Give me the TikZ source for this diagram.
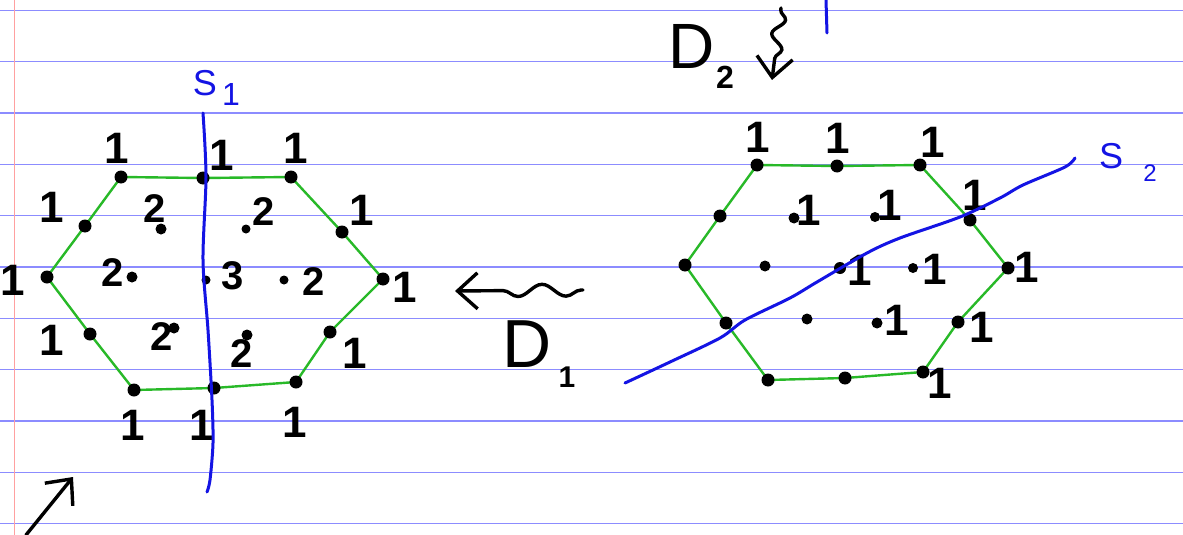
\documentclass[tikz,border=0pt]{standalone}
\usepackage{fontspec}
\setmainfont{Liberation Sans}
\usetikzlibrary{arrows.meta,decorations.pathmorphing}

\definecolor{ruleblue}{RGB}{140,140,255}
\definecolor{marginred}{RGB}{255,160,160}
\definecolor{penblue}{RGB}{20,20,228}
\definecolor{pengreen}{RGB}{40,185,40}

\tikzset{
  rule/.style={ruleblue,line width=1.4pt},
  edge/.style={pengreen,line width=2.4pt,line join=round},
  cutline/.style={penblue,line width=3pt,line cap=round},
  one/.style={inner sep=0pt,font=\fontsize{44}{44}\selectfont\bfseries},
  weight/.style={inner sep=0pt,font=\fontsize{40}{40}\selectfont\bfseries},
  penarrow/.style={line width=3.4pt,line cap=round,
    -{Straight Barb[length=20pt,width=36pt,line width=3.4pt]}},
}

\begin{document}
\begin{tikzpicture}[x=1pt,y=-1pt]
  \useasboundingbox (0,0) rectangle (1183,535);
  \fill[white] (0,0) rectangle (1183,535);

  % ruled paper
  \draw[rule] (0,10.5) -- (1183,10.5) (0,61.8) -- (1183,61.8)
    (0,113.1) -- (1183,113.1) (0,164.4) -- (1183,164.4)
    (0,215.7) -- (1183,215.7) (0,267) -- (1183,267)
    (0,318.3) -- (1183,318.3) (0,369.6) -- (1183,369.6)
    (0,420.9) -- (1183,420.9) (0,472.2) -- (1183,472.2)
    (0,523.5) -- (1183,523.5);
  \draw[marginred,line width=1.4pt] (14.7,0) -- (14.7,535);

  % left hexagon D1
  \coordinate (ltl) at (121,177);  \coordinate (ltm) at (203,178);
  \coordinate (ltr) at (291,177);  \coordinate (lru) at (342,232);
  \coordinate (lr)  at (383,279);  \coordinate (lrl) at (330,332);
  \coordinate (lbr) at (296,382);  \coordinate (lbm) at (214,388);
  \coordinate (lbl) at (134,390);  \coordinate (lll) at (90,334);
  \coordinate (ll)  at (47,277);   \coordinate (llu) at (85,226);
  \draw[edge] (ltl) -- (ltm) -- (ltr) -- (lru) -- (lr) -- (lrl) -- (lbr)
    -- (lbm) -- (lbl) -- (lll) -- (ll) -- (llu) -- cycle;
  \foreach \v in {ltl,ltm,ltr,lru,lr,lrl,lbr,lbm,lbl,lll,ll,llu}
    \fill (\v) circle (6.5);

  % interior points with weights
  \fill (161,229) circle (5.5); \node[weight] (w1) at (155,209) {2};
  \fill (246,229) circle (4.5); \node[weight] (w2) at (264,212) {2};
  \fill (132,277) circle (5.5); \node[weight] (w3) at (113,273) {2};
  \fill (206,280) circle (4.5); \node[weight] (w4) at (233,276) {3};
  \fill (284,280) circle (4.5); \node[weight] (w5) at (314,282) {2};
  \fill (174,328) circle (5.5); \node[weight] (w6) at (162,337) {2};
  \fill (247,335) circle (5.5); \node[weight] (w7) at (242,354) {2};

  % boundary weights
  \node[one] (o1)  at (117,148) {1};
  \node[one] (o2)  at (222,155) {1};
  \node[one] (o3)  at (296,148) {1};
  \node[one] (o4)  at (52,207)  {1};
  \node[one] (o5)  at (362,210) {1};
  \node[one] (o6)  at (13,280)  {1};
  \node[one] (o7)  at (405,287) {1};
  \node[one] (o8)  at (52,340)  {1};
  \node[one] (o9)  at (355,353) {1};
  \node[one] (o10) at (133,425) {1};
  \node[one] (o11) at (202,425) {1};
  \node[one] (o12) at (295,422) {1};

  % cut S1
  \draw[cutline] plot[smooth] coordinates {(203,113) (206,177) (203,260)
    (208,330) (212,400) (213,443) (210,480) (207,492)};
  \node[penblue,inner sep=0pt,font=\fontsize{36}{36}\selectfont]
    (s1) at (205,83) {S};
  \node[penblue,inner sep=0pt,font=\fontsize{32}{32}\selectfont]
    (s1i) at (231,94) {1};

  % squiggly arrow and D1
  \coordinate (d1tail) at (583,290);
  \coordinate (d1head) at (455,291);
  \draw[penarrow,decorate,decoration={snake,amplitude=6pt,segment length=48pt,
    pre length=2pt,post length=28pt}] (d1tail) -- (d1head);
  \node[inner sep=0pt,font=\fontsize{68}{68}\selectfont] (d1) at (527,344) {D};
  \node[inner sep=0pt,font=\fontsize{30}{30}\selectfont\bfseries]
    (d1i) at (567,377) {1};

  % right hexagon D2
  \coordinate (rtl) at (757,165);  \coordinate (rtm) at (837,166);
  \coordinate (rtr) at (920,165);  \coordinate (rru) at (970,220);
  \coordinate (rr)  at (1008,268); \coordinate (rrl) at (958,322);
  \coordinate (rbr) at (923,372);  \coordinate (rbm) at (845,378);
  \coordinate (rbl) at (768,380);  \coordinate (rll) at (726,323);
  \coordinate (rl)  at (685,265);  \coordinate (rlu) at (720,216);
  \draw[edge] (rtl) -- (rtm) -- (rtr) -- (rru) -- (rr) -- (rrl) -- (rbr)
    -- (rbm) -- (rbl) -- (rll) -- (rl) -- (rlu) -- cycle;
  \foreach \v in {rtl,rtm,rtr,rru,rr,rrl,rbr,rbm,rbl,rll,rl,rlu}
    \fill (\v) circle (6.5);

  % interior points
  \fill (794,218) circle (5.5); \node[one] (r1) at (809,210) {1};
  \fill (875,217) circle (5);   \node[one] (r2) at (890,205) {1};
  \fill (765,266) circle (5.5);
  \fill (840,268) circle (6);   \node[one] (r3) at (860,270) {1};
  \fill (913,268) circle (5);   \node[one] (r4) at (935,269) {1};
  \fill (807,319) circle (5.5);
  \fill (877,323) circle (5.5); \node[one] (r5) at (897,320) {1};

  % boundary weights
  \node[one] (q1) at (758,137)  {1};
  \node[one] (q2) at (838,138)  {1};
  \node[one] (q3) at (933,142)  {1};
  \node[one] (q4) at (975,195)  {1};
  \node[one] (q5) at (1027,267) {1};
  \node[one] (q6) at (982,327)  {1};
  \node[one] (q7) at (940,383)  {1};

  % cut S2
  \draw[cutline] plot[smooth] coordinates {(625,383) (670,362) (720,338)
    (745,320) (790,298) (817,282) (867,253) (900,238) (960,217) (1000,198)
    (1023,185) (1065,167) (1075,158)};
  \node[penblue,inner sep=0pt,font=\fontsize{36}{36}\selectfont]
    (s2) at (1111,156) {S};
  \node[penblue,inner sep=0pt,font=\fontsize{24}{24}\selectfont]
    (s2i) at (1150,173) {2};

  % D2 with squiggly arrow
  \node[inner sep=0pt,font=\fontsize{64}{64}\selectfont] (d2) at (692,46) {D};
  \node[inner sep=0pt,font=\fontsize{32}{32}\selectfont\bfseries]
    (d2i) at (725,77) {2};
  \coordinate (d2tail) at (781,8);
  \coordinate (d2head) at (772,80);
  \draw[penarrow,decorate,decoration={snake,amplitude=6pt,segment length=30pt,
    pre length=2pt,post length=14pt}] (d2tail) -- (d2head);
  \draw[cutline] (826,0) -- (827,33);

  % arrow bottom left
  \coordinate (atail) at (26,535);
  \coordinate (ahead) at (73,477);
  \draw[penarrow] (atail) -- (ahead);
\end{tikzpicture}
\end{document}
